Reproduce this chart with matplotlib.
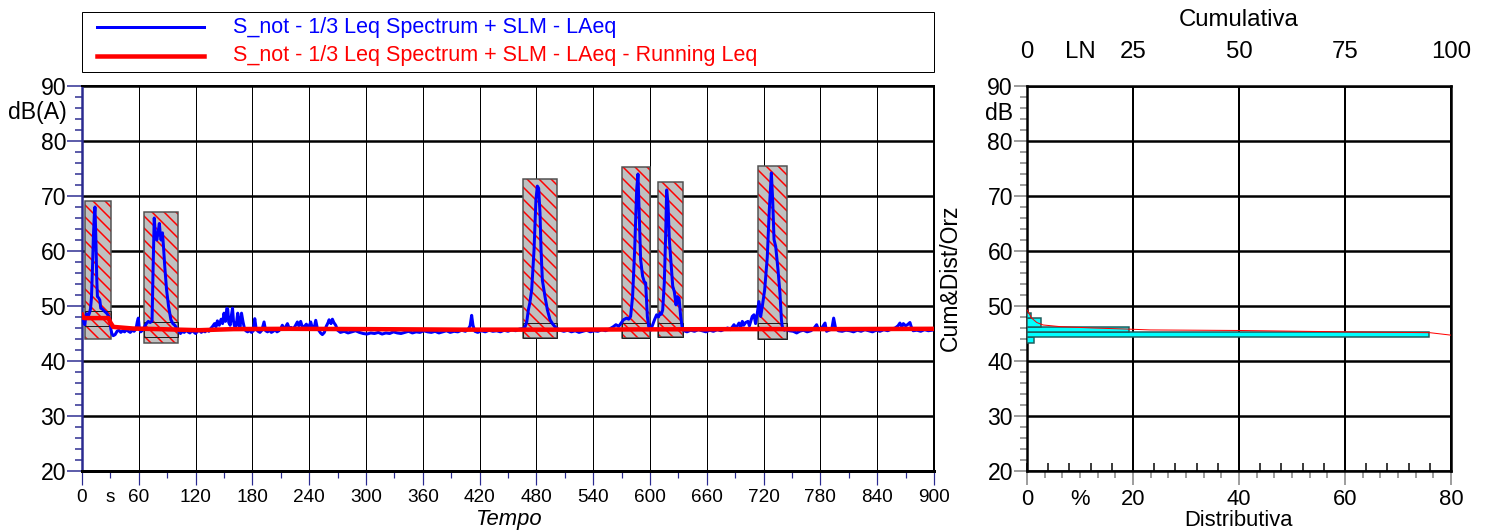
import matplotlib
matplotlib.use("Agg")
import matplotlib.pyplot as plt
from matplotlib.patches import Rectangle
from matplotlib.lines import Line2D
from matplotlib.ticker import MultipleLocator, FuncFormatter

# LAeq time history (s, dB(A))
laeq_t = [0, 1, 2, 3, 4, 5, 6, 7, 8, 9, 10, 11, 12, 13, 13.7, 14.6, 15.6, 16.3, 17.5, 18.8, 19.8, 21, 22.3, 24, 26, 28, 29.5, 30.5, 31.5,
          33, 35, 37, 39, 41, 43, 45, 47, 49, 51, 53, 55, 57, 58.5, 59.5, 60.5, 62, 64, 66,
          68, 70, 72, 74, 75, 76.3, 77.5, 79, 80.5, 81.7, 82.7, 83.5, 85, 86, 87.5, 89.3, 91.4, 93.9, 96, 98, 100, 102,
          104, 106, 108, 110, 112, 114, 116, 118, 120, 122, 124, 126, 128, 130, 132, 134, 136, 138, 140,
          141.5, 143, 145, 147, 148.5, 150, 151.5, 153, 154, 155, 156.5, 158, 159, 160, 161, 162.5, 164.5, 166, 167, 168.5, 170, 171.5, 173, 175,
          177, 179, 181, 182.5, 184, 186, 188, 190, 192.3, 194, 196, 198, 200, 202, 204, 206, 208, 210, 211.6, 213,
          215, 217, 219, 221, 223, 225, 227.5, 229, 231, 233, 235, 237, 239, 241.6, 243, 245, 246.9, 248.5, 250, 252,
          253.9, 256, 258, 260, 261, 263, 264.5, 266, 268, 270,
          273, 277, 281, 285, 289, 293, 297, 301, 305, 309, 313, 317, 321, 325, 329, 333, 337, 341, 345, 349,
          353, 357, 361, 365, 369, 373, 377, 381, 385, 389, 393, 397, 401, 405, 408, 410, 411.6, 413, 415, 418,
          422, 426, 430, 434, 438, 442, 446, 450, 454, 458, 462, 466,
          468, 469.8, 471.5, 473, 475, 477.5, 479.5, 481, 482.4, 483.8, 484.9, 486.3, 489.1, 491.6, 494.4, 497, 499.7, 502, 505,
          509, 513, 517, 521, 525, 529, 533, 537, 541, 545, 549, 553, 557, 561, 564, 567, 570,
          572, 575.3, 577.5, 579.5, 581.6, 583.8, 585.9, 587.3, 588.7, 590.1, 592.2, 594, 595.4, 597.2, 598.6, 600.7,
          603.5, 605, 607, 609, 610.6, 612, 613.4,
          615.1, 616.6, 617.6, 619, 620.4, 622.2, 624, 625.7, 627.5, 628.9, 630.7, 632.4, 634.2, 636,
          639, 643, 647, 651, 655, 659, 663, 667, 671, 675, 679, 682, 685, 688.7, 691, 694, 696, 697.5, 699, 701,
          703.5, 705, 707, 708, 709.8, 711.5, 713.3,
          715, 716.9, 718.6, 721.1, 723.9, 726, 728.2, 729.6, 731, 732.8, 735.2, 737.3, 738.8, 740, 742, 744,
          747, 751.4, 754.9, 758, 762, 766, 770, 773, 776, 778, 781, 784.9, 786.5, 789, 792, 794, 796, 799, 803, 807,
          811, 815, 819, 823, 827, 831, 835, 839, 843, 847, 851, 855, 859, 862, 864, 866, 867.6, 870, 872, 874.6,
          876, 878, 882, 886, 890, 894, 898, 900]
laeq_db = [47.4, 48.0, 47.0, 46.6, 48.2, 48.6, 48.0, 48.3, 48.8, 49.5, 51.5, 56.5, 62.5, 66.5, 68.0, 62.6, 54.8, 51.7, 51.5, 51.1, 49.6, 49.5, 49.3, 49.0, 48.7, 48.2, 47.4, 45.8, 45.0,
           44.6, 44.8, 45.4, 45.6, 45.2, 45.5, 45.3, 45.7, 45.4, 45.2, 45.6, 45.4, 45.8, 47.2, 47.8, 46.0, 45.3, 45.6, 46.2,
           46.8, 47.2, 47.0, 47.3, 56.0, 66.0, 63.0, 62.0, 63.5, 65.0, 63.0, 62.0, 63.3, 61.0, 57.0, 53.0, 50.0, 47.5, 46.8, 46.5, 46.0, 45.5,
           45.0, 45.4, 45.2, 45.6, 45.3, 45.1, 45.5, 45.3, 45.0, 45.4, 45.6, 45.2, 45.5, 45.3, 45.7, 45.4, 45.9, 46.3, 46.8,
           46.2, 47.3, 46.5, 47.6, 46.8, 48.7, 47.2, 49.6, 49.4, 47.0, 46.5, 48.5, 49.6, 47.3, 46.4, 46.0, 48.7, 46.5, 46.2, 48.7, 47.2, 46.0, 45.5, 45.3,
           45.6, 45.2, 45.5, 47.7, 45.8, 45.4, 45.2, 45.6, 47.1, 45.5, 45.3, 45.6, 45.2, 45.4, 45.7, 45.3, 45.5, 45.9, 46.5, 45.8,
           46.2, 46.8, 45.9, 46.1, 45.8, 46.3, 47.1, 46.4, 47.2, 46.0, 46.3, 46.7, 45.9, 47.1, 46.2, 45.8, 47.4, 46.0, 45.6, 45.1,
           44.8, 45.2, 46.3, 47.0, 47.5, 46.8, 47.6, 47.0, 46.5, 45.6,
           45.2, 45.4, 45.1, 45.3, 45.5, 45.2, 45.0, 44.9, 45.1, 45.0, 45.2, 44.9, 45.1, 45.0, 45.3, 45.1, 45.0, 45.2, 45.4, 45.1,
           45.3, 45.2, 45.5, 45.3, 45.2, 45.4, 45.1, 45.3, 45.5, 45.2, 45.4, 45.3, 45.6, 45.4, 45.8, 46.4, 48.3, 46.5, 45.4, 45.2,
           45.5, 45.3, 45.6, 45.4, 45.5, 45.3, 45.6, 45.4, 45.7, 45.5, 45.8, 45.9,
           46.2, 47.1, 49.3, 50.5, 52.9, 60.2, 69.3, 71.8, 71.4, 66.9, 60.2, 54.7, 51.7, 49.3, 47.5, 46.8, 46.2, 45.9, 45.6,
           45.4, 45.6, 45.3, 45.5, 45.2, 45.4, 45.6, 45.3, 45.5, 45.4, 45.7, 45.5, 45.8, 46.2, 46.6, 46.3, 47.0,
           47.5, 47.8, 47.6, 48.1, 51.7, 60.2, 71.1, 74.0, 66.3, 58.4, 55.4, 54.4, 54.2, 48.1, 46.3, 45.6,
           46.9, 47.6, 48.4, 48.0, 48.7, 48.5, 49.3,
           54.2, 63.3, 71.1, 68.7, 62.1, 57.8, 53.6, 52.6, 50.2, 51.7, 51.4, 48.1, 45.9, 45.5,
           45.3, 45.6, 45.4, 45.7, 45.5, 45.3, 45.6, 45.4, 45.7, 45.5, 45.8, 46.0, 45.7, 46.6, 46.0, 46.9, 46.2, 47.2, 46.5, 47.0,
           47.2, 46.4, 47.5, 48.1, 48.4, 46.8, 48.6,
           50.8, 48.1, 49.9, 52.9, 58.9, 67.4, 74.2, 69.2, 62.1, 60.8, 56.6, 52.3, 47.5, 46.0, 45.6, 45.8,
           45.5, 45.4, 45.1, 45.4, 45.6, 45.3, 45.5, 45.9, 46.6, 45.7, 45.9, 46.9, 45.4, 45.6, 45.8, 47.8, 46.0, 45.5, 45.4, 45.6,
           45.5, 45.3, 45.6, 45.4, 45.7, 45.5, 45.3, 45.6, 45.4, 45.7, 45.5, 45.8, 46.0, 46.4, 46.9, 46.2, 46.8, 46.4, 46.6, 47.0,
           46.2, 45.5, 45.6, 45.4, 45.7, 45.5, 45.6, 45.7]

# running Leq
leq_t = [0, 1, 3, 28, 30, 33, 40, 54, 80, 124, 160, 220, 294, 400, 500, 600, 700, 800, 900]
leq_db = [48.4, 47.9, 47.8, 47.8, 47.0, 46.2, 46.1, 45.9, 45.8, 45.6, 45.8, 45.85, 45.8, 45.7, 45.7, 45.75, 45.8, 45.8, 45.85]

# masked events (hatched boxes)
ev_start = [3.2, 65.8, 466.2, 570.1, 608.1, 714.4]
ev_end = [30.6, 101.7, 502.1, 600.3, 635.2, 744.4]
ev_top = [69.1, 67.1, 73.1, 75.3, 72.5, 75.45]
ev_bottom = [44.0, 43.3, 44.25, 44.1, 44.3, 44.0]
ev_inner_hi = [49.1, 47.1, 47.0, 47.0, 47.0, 47.0]
ev_inner_lo = [46.4, 44.4, 44.25, 44.1, 44.3, 44.0]

# distribution (%) by level class
hist_lo = [43.3, 44.3, 45.25, 46.25, 47.75]
hist_hi = [44.3, 45.25, 46.25, 47.75, 48.7]
hist_pct = [1.3, 75.8, 19.2, 2.6, 0.8]

# cumulative curve (LN)
cum_pct = [0, 1.1, 2.3, 3.8, 7.8, 15.6, 23.8, 29, 50, 75, 95, 100]
cum_db = [49.3, 47.8, 47.0, 46.55, 46.25, 46.0, 45.8, 45.65, 45.55, 45.3, 45.15, 44.7]

legend_labels = ["S_not - 1/3 Leq Spectrum + SLM - LAeq",
                 "S_not - 1/3 Leq Spectrum + SLM - LAeq - Running Leq"]
legend_colors = ['blue', 'red']
legend_widths = [3, 4.5]

plt.rcParams['font.family'] = ['Liberation Sans', 'DejaVu Sans']
plt.rcParams['hatch.linewidth'] = 1.5

DPI = 72
W, H = 1487, 532
NAVY = '#2a2a90'
GRAY = '#808080'

fig = plt.figure(figsize=(W / DPI, H / DPI), dpi=DPI)
ax = fig.add_axes([82 / W, 1 - 471 / H, 852 / W, 385 / H])
ax2 = fig.add_axes([1027 / W, 1 - 471 / H, 424 / W, 385 / H])

# ---- time history ----
ax.set_xlim(0, 900)
ax.set_ylim(20, 90)
ax.xaxis.set_major_locator(MultipleLocator(60))
ax.set_xticks([30 + 60 * k for k in range(15)], minor=True)
ax.xaxis.set_minor_formatter(FuncFormatter(lambda x, p: 's' if abs(x - 30) < 1 else ''))
ax.yaxis.set_major_locator(MultipleLocator(10))
ax.yaxis.set_minor_locator(MultipleLocator(2))
ax.grid(axis='y', which='major', color='black', lw=2.5)
ax.grid(axis='x', which='major', color='black', lw=1)
ax.tick_params(axis='x', which='major', length=14, width=1.2, color=NAVY, pad=4, labelsize=19)
ax.tick_params(axis='x', which='minor', length=7, width=1.2, color=NAVY, pad=11, labelsize=19)
ax.tick_params(axis='y', which='major', length=15, width=1.5, color=NAVY, pad=1, labelsize=23)
ax.tick_params(axis='y', which='minor', length=7, width=1.5, color=NAVY)
for s in ['top', 'right']:
    ax.spines[s].set_linewidth(2)
ax.spines['bottom'].set_linewidth(3)
ax.spines['left'].set_linewidth(2.5)
ax.spines['left'].set_color(NAVY)

for i in range(len(ev_start)):
    w = ev_end[i] - ev_start[i]
    ax.add_patch(Rectangle((ev_start[i], ev_bottom[i]), w, ev_top[i] - ev_bottom[i],
                           facecolor='#c0c0c0', edgecolor='red', hatch='\\\\', lw=0, zorder=2))
    ax.add_patch(Rectangle((ev_start[i], ev_bottom[i]), w, ev_top[i] - ev_bottom[i],
                           fill=False, edgecolor='#505050', lw=1.5, zorder=2.1))
    ax.add_patch(Rectangle((ev_start[i], ev_inner_lo[i]), w, ev_inner_hi[i] - ev_inner_lo[i],
                           fill=False, edgecolor='#202020', lw=1, zorder=2.2))

ax.plot(laeq_t, laeq_db, color='blue', lw=3, zorder=3)
ax.plot(leq_t, leq_db, color='red', lw=4.5, zorder=4)
ax.text(-15 / 852, 1 - 27 / 385, 'dB(A)', transform=ax.transAxes, ha='right', va='center', fontsize=23)

# legend box above the time history
fig.patches.append(Rectangle((82 / W, 1 - 72 / H), 852 / W, 60 / H, transform=fig.transFigure,
                             fill=False, edgecolor='black', lw=1))
for row, (lab, col, lw) in enumerate(zip(legend_labels, legend_colors, legend_widths)):
    yy = 1 - (27 + 29 * row) / H
    fig.lines.append(Line2D([97 / W, 204 / W], [yy, yy], transform=fig.transFigure, color=col, lw=lw))
    fig.text(233 / W, yy, lab, color=col, ha='left', va='center', fontsize=21.5)

fig.text(508 / W, 1 - 519 / H, 'Tempo', ha='center', va='center', fontsize=22, style='italic')

# ---- distribution / cumulative ----
ax2.set_xlim(0, 80)
ax2.set_ylim(20, 90)
ax2.xaxis.set_major_locator(MultipleLocator(20))
ax2.xaxis.set_minor_locator(MultipleLocator(10 / 3))
ax2.xaxis.set_minor_formatter(FuncFormatter(lambda x, p: '%' if abs(x - 10) < 0.1 else ''))
ax2.yaxis.set_major_locator(MultipleLocator(10))
ax2.yaxis.set_minor_locator(MultipleLocator(2))
ax2.grid(axis='y', which='major', color='black', lw=2.5)
ax2.grid(axis='x', which='major', color='black', lw=2)
ax2.tick_params(axis='x', which='major', length=14, width=1.5, color=GRAY, pad=4, labelsize=22)
ax2.tick_params(axis='x', which='minor', length=7, width=1.5, color=GRAY, pad=11, labelsize=22)
ax2.tick_params(axis='y', which='major', length=13, width=1.5, color=GRAY, pad=1, labelsize=23)
ax2.tick_params(axis='y', which='minor', length=7, width=1.5, color=GRAY)
for s in ax2.spines.values():
    s.set_linewidth(2.5)
heights = [h - l for l, h in zip(hist_lo, hist_hi)]
ax2.barh(hist_lo, hist_pct, height=heights, align='edge', color='#00ffff', edgecolor='#1f5a5a', lw=1.5, zorder=3)
ax2.text(-14 / 424, 1 - 27 / 385, 'dB', transform=ax2.transAxes, ha='right', va='center', fontsize=23)

axc = ax2.twiny()
axc.set_xlim(0, 100)
axc.set_xticks([0, 12.5, 25, 50, 75, 100], ['0', 'LN', '25', '50', '75', '100'])
axc.tick_params(axis='x', length=0, pad=23, labelsize=24)
for s in axc.spines.values():
    s.set_visible(False)
axc.plot(cum_pct, cum_db, color='red', lw=1, zorder=5)
sec = axc.secondary_xaxis('bottom')
sec.set_xticks(list(range(0, 101, 5)))
sec.tick_params(axis='x', direction='in', length=8, width=1.5, color='black', labelbottom=False)
sec.spines['bottom'].set_visible(False)

fig.text(1239 / W, 1 - 20 / H, 'Cumulativa', ha='center', va='center', fontsize=24)
fig.text(1239 / W, 1 - 531.5 / H, 'Distributiva', ha='center', va='bottom', fontsize=22)
fig.text(950 / W, 1 - 278 / H, 'Cum&Dist/Orz', ha='center', va='center', rotation=90, fontsize=23)

fig.savefig('out.png', dpi=DPI)
